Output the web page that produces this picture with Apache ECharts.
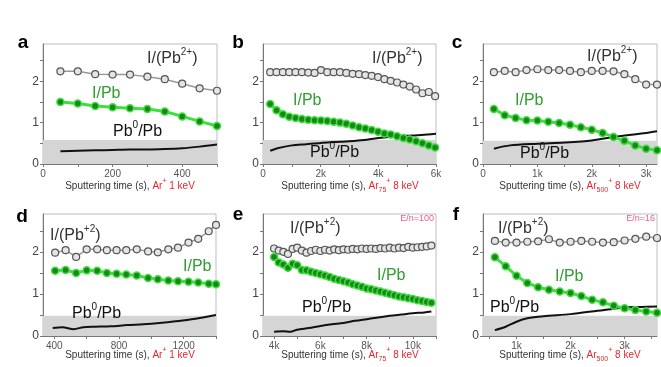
<!DOCTYPE html>
<html>
<head>
<meta charset="utf-8">
<script src="https://cdn.jsdelivr.net/npm/echarts@6/dist/echarts.min.js"></script>
<style>
  html, body { margin: 0; padding: 0; background: #fff; }
  #chart { width: 661px; height: 367px; }
</style>
</head>
<body>
<div id="chart"></div>
<script>
// a: Ar+ 1 keV
const aX = [50, 100, 150, 200, 250, 300, 350, 400, 450, 500];
const aIPb2 = [2.24, 2.24, 2.17, 2.16, 2.16, 2.11, 2.05, 1.94, 1.83, 1.77];
const aIPb = [1.50, 1.46, 1.40, 1.37, 1.35, 1.33, 1.27, 1.15, 1.03, 0.92];
const aPb0X = [50, 100, 150, 200, 250, 300, 350, 400, 450, 500];
const aPb0 = [0.31, 0.32, 0.33, 0.34, 0.35, 0.35, 0.36, 0.38, 0.42, 0.47];

// b: Ar75+ 8 keV
const bX = [250, 470, 690, 910, 1130, 1350, 1570, 1790, 2010, 2230, 2450, 2670, 2890, 3110,
  3330, 3550, 3770, 3990, 4210, 4430, 4650, 4870, 5090, 5310, 5530, 5750, 5970];
const bIPb2 = [2.22, 2.22, 2.22, 2.22, 2.22, 2.22, 2.21, 2.20, 2.27, 2.22, 2.22, 2.22, 2.20, 2.18,
  2.17, 2.15, 2.13, 2.10, 2.05, 2.01, 1.97, 1.92, 1.87, 1.80, 1.71, 1.74, 1.64];
const bIPb = [1.45, 1.30, 1.20, 1.14, 1.11, 1.09, 1.07, 1.06, 1.05, 1.04, 1.02, 1.00, 0.97, 0.93,
  0.89, 0.86, 0.82, 0.78, 0.74, 0.71, 0.67, 0.63, 0.59, 0.55, 0.50, 0.45, 0.40];
const bPb0X = [250, 500, 1000, 1500, 2000, 2500, 3000, 3500, 4000, 4500, 5000, 5500, 6000];
const bPb0 = [0.32, 0.38, 0.45, 0.48, 0.51, 0.53, 0.55, 0.58, 0.63, 0.66, 0.68, 0.70, 0.73];

// c: Ar500+ 8 keV
const cX = [200, 400, 600, 800, 1000, 1200, 1400, 1600, 1800, 2000, 2200, 2400, 2600, 2800, 3000, 3200];
const cIPb2 = [2.22, 2.25, 2.22, 2.27, 2.29, 2.27, 2.27, 2.25, 2.22, 2.25, 2.25, 2.24, 2.17, 2.05, 1.92, 1.92];
const cIPb = [1.33, 1.18, 1.11, 1.06, 1.05, 1.02, 0.99, 0.95, 0.89, 0.83, 0.75, 0.65, 0.56, 0.45, 0.37, 0.33];
const cPb0X = [200, 500, 1000, 1500, 2000, 2500, 3000, 3200];
const cPb0 = [0.37, 0.45, 0.49, 0.52, 0.57, 0.67, 0.75, 0.79];

// d: Ar+ 1 keV
const dX = [405, 470, 535, 600, 665, 725, 785, 845, 910, 980, 1040, 1105, 1165, 1230, 1290, 1355, 1400];
const dIPb2 = [1.98, 2.04, 1.88, 2.06, 2.06, 2.04, 2.04, 2.04, 2.06, 2.01, 1.99, 2.06, 2.10, 2.22, 2.31, 2.49, 2.64];
const dIPb = [1.55, 1.57, 1.50, 1.56, 1.55, 1.50, 1.48, 1.46, 1.44, 1.38, 1.35, 1.32, 1.30, 1.29, 1.27, 1.24, 1.23];
const dPb0X = [390, 450, 520, 580, 650, 750, 850, 950, 1050, 1150, 1250, 1320, 1400];
const dPb0 = [0.19, 0.21, 0.16, 0.21, 0.22, 0.23, 0.26, 0.28, 0.31, 0.35, 0.40, 0.44, 0.50];

// e: Ar75+ 8 keV, E/n=100
const eX = [4000, 4200, 4400, 4600, 4800, 5000, 5200, 5400, 5600, 5800, 6000, 6200, 6400, 6600,
  6800, 7000, 7200, 7400, 7600, 7800, 8000, 8200, 8400, 8600, 8800, 9000, 9200, 9400, 9600,
  9800, 10000, 10200, 10400, 10600, 10800];
const eIPb2 = [2.08, 2.03, 2.00, 1.95, 2.07, 2.10, 2.03, 1.98, 2.02, 2.05, 2.02, 2.05, 2.03, 2.06,
  2.04, 2.06, 2.05, 2.07, 2.06, 2.08, 2.07, 2.08, 2.07, 2.09, 2.08, 2.10, 2.08, 2.10, 2.09,
  2.12, 2.10, 2.11, 2.12, 2.13, 2.15];
const eIPb = [1.88, 1.75, 1.70, 1.62, 1.72, 1.68, 1.57, 1.56, 1.53, 1.50, 1.47, 1.44, 1.40, 1.36,
  1.33, 1.30, 1.27, 1.23, 1.20, 1.17, 1.13, 1.11, 1.08, 1.06, 1.03, 1.00, 0.97, 0.94, 0.92,
  0.90, 0.88, 0.85, 0.83, 0.81, 0.79];
const ePb0X = [4000, 4400, 4700, 5000, 5500, 6000, 6500, 7000, 7500, 8000, 8500, 9000, 9500, 10000, 10500, 10800];
const ePb0 = [0.10, 0.11, 0.10, 0.15, 0.19, 0.24, 0.28, 0.31, 0.36, 0.40, 0.44, 0.48, 0.51, 0.54, 0.56, 0.58];

// f: Ar500+ 8 keV, E/n=16
const fX = [600, 800, 1000, 1200, 1400, 1600, 1800, 2000, 2200, 2400, 2600, 2800, 3000, 3200, 3400, 3600];
const fIPb2 = [2.26, 2.22, 2.22, 2.24, 2.25, 2.30, 2.22, 2.24, 2.26, 2.24, 2.22, 2.23, 2.27, 2.31, 2.36, 2.33];
const fIPb = [1.87, 1.66, 1.43, 1.26, 1.16, 1.10, 1.06, 1.02, 0.95, 0.86, 0.80, 0.72, 0.66, 0.62, 0.58, 0.55];
const fPb0X = [600, 800, 1000, 1200, 1500, 2000, 2500, 3000, 3300, 3600];
const fPb0 = [0.14, 0.22, 0.34, 0.42, 0.47, 0.52, 0.60, 0.68, 0.69, 0.70];

const yLabels = [0, 1, 2];
const yTicks = [0, 0.5, 1, 1.5, 2, 2.5];
const bandTop = [0.58, 0.58, 0.56, 0.48, 0.48, 0.48];

const FONT = "Arial, 'Liberation Sans', sans-serif";
const zip = (xs, ys) => xs.map((x, i) => [x, ys[i]]);

const panels = [
  { box: [43, 44, 174, 120], min: 0, max: 500, labels: [0, 200, 400], ticks: [0, 100, 200, 300, 400, 500], k: false,
    x: aX, ipb2: aIPb2, ipb: aIPb, pb0x: aPb0X, pb0: aPb0 },
  { box: [263, 44, 173, 120], min: 0, max: 6000, labels: [0, 2000, 4000, 6000], ticks: [0, 1000, 2000, 3000, 4000, 5000, 6000], k: true,
    x: bX, ipb2: bIPb2, ipb: bIPb, pb0x: bPb0X, pb0: bPb0 },
  { box: [483, 44, 174, 120], min: 0, max: 3200, labels: [0, 1000, 2000, 3000], ticks: [0, 500, 1000, 1500, 2000, 2500, 3000], k: true,
    x: cX, ipb2: cIPb2, ipb: cIPb, pb0x: cPb0X, pb0: cPb0 },
  { box: [43, 214, 173, 122], min: 330, max: 1400, labels: [400, 800, 1200], ticks: [400, 600, 800, 1000, 1200, 1400], k: false,
    x: dX, ipb2: dIPb2, ipb: dIPb, pb0x: dPb0X, pb0: dPb0 },
  { box: [263, 214, 173, 122], min: 3520, max: 11000, labels: [4000, 6000, 8000, 10000], ticks: [4000, 5000, 6000, 7000, 8000, 9000, 10000, 11000], k: true,
    x: eX, ipb2: eIPb2, ipb: eIPb, pb0x: ePb0X, pb0: ePb0 },
  { box: [483, 214, 174, 122], min: 380, max: 3600, labels: [1000, 2000, 3000], ticks: [500, 1000, 1500, 2000, 2500, 3000, 3500], k: true,
    x: fX, ipb2: fIPb2, ipb: fIPb, pb0x: fPb0X, pb0: fPb0 }
];

const grid = [], xAxis = [], yAxis = [], series = [];
panels.forEach((p, i) => {
  grid.push({ left: p.box[0], top: p.box[1], width: p.box[2], height: p.box[3],
    show: true, borderColor: '#bdbdbd', borderWidth: 1 });
  xAxis.push({
    type: 'value', gridIndex: i, min: p.min, max: p.max,
    axisLine: { lineStyle: { color: '#777' } },
    axisTick: { length: 3, customValues: p.ticks, lineStyle: { color: '#777' } },
    axisLabel: { customValues: p.labels, fontSize: 10, color: '#555', fontFamily: FONT, margin: 5,
      formatter: v => (p.k && v >= 1000) ? (v / 1000) + 'k' : String(v) },
    splitLine: { show: false }
  });
  yAxis.push({
    type: 'value', gridIndex: i, min: 0, max: 2.9,
    axisLine: { show: true, lineStyle: { color: '#777' } },
    axisTick: { show: true, length: 3, customValues: yTicks, lineStyle: { color: '#777' } },
    axisLabel: { customValues: yLabels, fontSize: 12, color: '#444', fontFamily: FONT, margin: 4 },
    splitLine: { show: false }
  });
  series.push({
    name: 'Pb0/Pb', type: 'line', xAxisIndex: i, yAxisIndex: i, z: 2,
    data: zip(p.pb0x, p.pb0), showSymbol: false, smooth: 0.3,
    lineStyle: { color: '#111', width: 2 },
    markArea: { silent: true, itemStyle: { color: '#d5d5d5' },
      data: [[{ yAxis: 0 }, { yAxis: bandTop[i] }]] }
  });
  series.push({
    name: 'I/(Pb2+)', type: 'line', xAxisIndex: i, yAxisIndex: i, z: 3,
    data: zip(p.x, p.ipb2), symbol: 'circle', symbolSize: 7,
    lineStyle: { color: '#999', width: 1.5 },
    itemStyle: { color: '#e4e4e4', borderColor: '#555', borderWidth: 1.2 }
  });
  series.push({
    name: 'I/Pb', type: 'line', xAxisIndex: i, yAxisIndex: i, z: 4,
    data: zip(p.x, p.ipb), symbol: 'circle', symbolSize: 7,
    lineStyle: { color: '#3be03b', width: 3 },
    itemStyle: { color: '#1b851b', borderColor: '#3be03b', borderWidth: 1.5 }
  });
});

// superscripts: tall main line box, small token pinned to the top of it
const rich = {
  m: { fontSize: 16, fontFamily: FONT, lineHeight: 24 },
  s: { fontSize: 10, fontFamily: FONT, lineHeight: 10, verticalAlign: 'top' }
};
function label(text, x, y, color) {
  return { type: 'text', x: x, y: y, z: 10,
    style: { text: text, rich: rich, fill: color || '#333', verticalAlign: 'middle', fontFamily: FONT, fontSize: 16 } };
}
const xRich = {
  n: { fontSize: 10, fontFamily: FONT, fill: '#333', lineHeight: 16 },
  r: { fontSize: 10, fontFamily: FONT, fill: '#e8262c', lineHeight: 16 },
  rs: { fontSize: 7, fontFamily: FONT, fill: '#e8262c', lineHeight: 7, verticalAlign: 'top' },
  rb: { fontSize: 7, fontFamily: FONT, fill: '#e8262c', lineHeight: 7, verticalAlign: 'bottom' }
};
function xName(text, cx, y) {
  return { type: 'text', x: cx, y: y, z: 10,
    style: { text: text, rich: xRich, align: 'center', verticalAlign: 'middle', fontFamily: FONT, fontSize: 10 } };
}
function letter(t, x, y) {
  return { type: 'text', x: x, y: y, z: 10,
    style: { text: t, fill: '#000', fontFamily: FONT, fontSize: 19, fontWeight: 'bold', align: 'center', verticalAlign: 'middle' } };
}

const ar1 = '{n|Sputtering time (s), }{r|Ar}{rs|+}{r| 1 keV}';
const ar75 = '{n|Sputtering time (s), }{r|Ar}{rb|75}{rs|+}{r| 8 keV}';
const ar500 = '{n|Sputtering time (s), }{r|Ar}{rb|500}{rs|+}{r| 8 keV}';
const pb2a = '{m|I/(Pb}{s|2+}{m|)}';
const pb2b = '{m|I/(Pb}{s|+2}{m|)}';
const ipb = '{m|I/Pb}';
const pb0 = '{m|Pb}{s|0}{m|/Pb}';
const GREEN = '#2e9e2e';

const graphic = [
  letter('a', 23, 43), letter('b', 238, 43), letter('c', 457, 43),
  letter('d', 22, 217), letter('e', 238, 215), letter('f', 456, 215),
  xName(ar1, 130, 186), xName(ar75, 350, 186), xName(ar500, 570, 186),
  xName(ar1, 130, 355), xName(ar75, 350, 355), xName(ar500, 570, 355),
  label(pb2a, 147, 59), label(ipb, 92, 94, GREEN), label(pb0, 113, 132, '#111'),
  label(pb2a, 372, 59), label(ipb, 293, 101, GREEN), label(pb0, 310, 153, '#111'),
  label(pb2a, 587, 57), label(ipb, 515, 101, GREEN), label(pb0, 520, 154, '#111'),
  label(pb2b, 50, 236), label(ipb, 183, 267, GREEN), label(pb0, 72, 314, '#111'),
  label(pb2b, 290, 229), label(ipb, 377, 276, GREEN), label(pb0, 302, 308, '#111'),
  label(pb2b, 498, 229), label(ipb, 555, 277, GREEN), label(pb0, 490, 308, '#111'),
  { type: 'text', x: 434, y: 219, z: 10, style: { text: 'E/n=100', fill: '#e8608a', fontFamily: FONT, fontSize: 9, align: 'right', verticalAlign: 'middle' } },
  { type: 'text', x: 655, y: 219, z: 10, style: { text: 'E/n=16', fill: '#e8608a', fontFamily: FONT, fontSize: 9, align: 'right', verticalAlign: 'middle' } }
];

const chart = echarts.init(document.getElementById('chart'));
chart.setOption({
  animation: false,
  backgroundColor: '#fff',
  grid: grid,
  xAxis: xAxis,
  yAxis: yAxis,
  series: series,
  graphic: graphic
});
</script>
</body>
</html>
